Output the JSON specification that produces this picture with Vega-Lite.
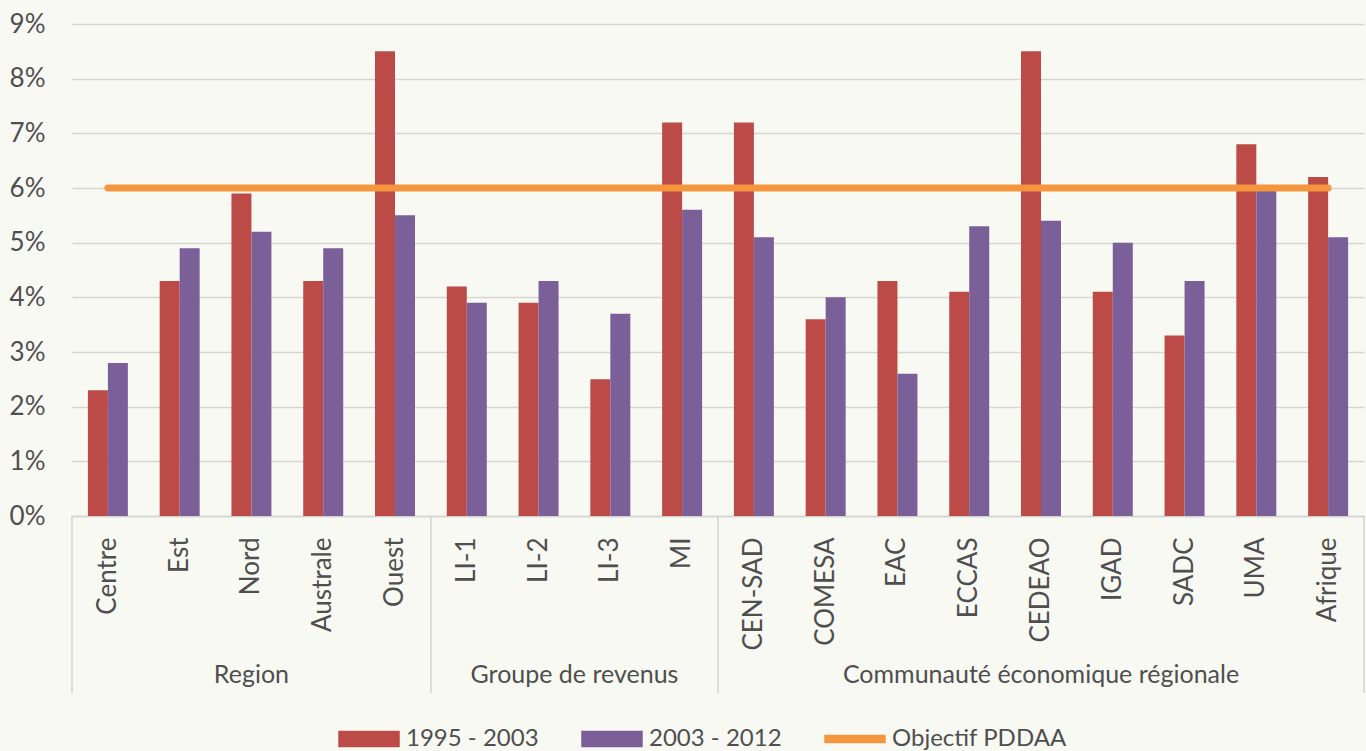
{
  "$schema": "https://vega.github.io/schema/vega-lite/v6.json",
  "width": 1292,
  "height": 492,
  "autosize": {"type": "none"},
  "padding": {"left": 72, "top": 24, "right": 2, "bottom": 235},
  "background": "#f9f9f4",
  "datasets": {
    "bars": [
      {"cat": "Centre", "series": "1995 - 2003", "value": 2.3},
      {"cat": "Centre", "series": "2003 - 2012", "value": 2.8},
      {"cat": "Est", "series": "1995 - 2003", "value": 4.3},
      {"cat": "Est", "series": "2003 - 2012", "value": 4.9},
      {"cat": "Nord", "series": "1995 - 2003", "value": 5.9},
      {"cat": "Nord", "series": "2003 - 2012", "value": 5.2},
      {"cat": "Australe", "series": "1995 - 2003", "value": 4.3},
      {"cat": "Australe", "series": "2003 - 2012", "value": 4.9},
      {"cat": "Ouest", "series": "1995 - 2003", "value": 8.5},
      {"cat": "Ouest", "series": "2003 - 2012", "value": 5.5},
      {"cat": "LI-1", "series": "1995 - 2003", "value": 4.2},
      {"cat": "LI-1", "series": "2003 - 2012", "value": 3.9},
      {"cat": "LI-2", "series": "1995 - 2003", "value": 3.9},
      {"cat": "LI-2", "series": "2003 - 2012", "value": 4.3},
      {"cat": "LI-3", "series": "1995 - 2003", "value": 2.5},
      {"cat": "LI-3", "series": "2003 - 2012", "value": 3.7},
      {"cat": "MI", "series": "1995 - 2003", "value": 7.2},
      {"cat": "MI", "series": "2003 - 2012", "value": 5.6},
      {"cat": "CEN-SAD", "series": "1995 - 2003", "value": 7.2},
      {"cat": "CEN-SAD", "series": "2003 - 2012", "value": 5.1},
      {"cat": "COMESA", "series": "1995 - 2003", "value": 3.6},
      {"cat": "COMESA", "series": "2003 - 2012", "value": 4.0},
      {"cat": "EAC", "series": "1995 - 2003", "value": 4.3},
      {"cat": "EAC", "series": "2003 - 2012", "value": 2.6},
      {"cat": "ECCAS", "series": "1995 - 2003", "value": 4.1},
      {"cat": "ECCAS", "series": "2003 - 2012", "value": 5.3},
      {"cat": "CEDEAO", "series": "1995 - 2003", "value": 8.5},
      {"cat": "CEDEAO", "series": "2003 - 2012", "value": 5.4},
      {"cat": "IGAD", "series": "1995 - 2003", "value": 4.1},
      {"cat": "IGAD", "series": "2003 - 2012", "value": 5.0},
      {"cat": "SADC", "series": "1995 - 2003", "value": 3.3},
      {"cat": "SADC", "series": "2003 - 2012", "value": 4.3},
      {"cat": "UMA", "series": "1995 - 2003", "value": 6.8},
      {"cat": "UMA", "series": "2003 - 2012", "value": 5.95},
      {"cat": "Afrique", "series": "1995 - 2003", "value": 6.2},
      {"cat": "Afrique", "series": "2003 - 2012", "value": 5.1}
    ],
    "groups": [
      {"label": "Region", "cat": "Nord", "mid": "center"},
      {"label": "Groupe de revenus", "cat": "LI-2", "mid": "edge"},
      {"label": "Communauté économique régionale", "cat": "CEDEAO", "mid": "center"}
    ],
    "separators": [
      {"cat": "Centre", "side": "start"},
      {"cat": "LI-1", "side": "start"},
      {"cat": "CEN-SAD", "side": "start"},
      {"cat": "Afrique", "side": "end"}
    ],
    "target": [
      {"from": "Centre", "to": "Afrique", "value": 6, "series": "Objectif PDDAA"}
    ]
  },
  "config": {
    "view": {"stroke": null},
    "font": "Lato",
    "axis": {"labelFont": "Lato", "labelColor": "#4f4f4f", "titleFont": "Lato"},
    "legend": {"labelFont": "Lato"}
  },
  "layer": [
    {
      "data": {"name": "bars"},
      "mark": {"type": "bar"},
      "encoding": {
        "x": {
          "field": "cat",
          "type": "nominal",
          "sort": null,
          "scale": {"paddingInner": 0, "paddingOuter": 0, "domain": ["Centre", "Est", "Nord", "Australe", "Ouest", "LI-1", "LI-2", "LI-3", "MI", "CEN-SAD", "COMESA", "EAC", "ECCAS", "CEDEAO", "IGAD", "SADC", "UMA", "Afrique"]},
          "axis": {
            "title": null,
            "labelAngle": -90,
            "labelAlign": "right",
            "labelBaseline": "middle",
            "labelPadding": 21,
            "labelFontSize": 26,
            "ticks": false,
            "domain": true,
            "domainColor": "#d3d3ce",
            "domainWidth": 1.5,
            "grid": false
          }
        },
        "xOffset": {
          "field": "series",
          "type": "nominal",
          "sort": ["1995 - 2003", "2003 - 2012"],
          "scale": {"paddingInner": 0, "paddingOuter": 0.795}
        },
        "y": {
          "field": "value",
          "type": "quantitative",
          "scale": {"domain": [0, 9], "nice": false},
          "axis": {
            "title": null,
            "values": [0, 1, 2, 3, 4, 5, 6, 7, 8, 9],
            "labelExpr": "datum.value + '%'",
            "labelFontSize": 26,
            "labelPadding": 27,
            "ticks": false,
            "domain": false,
            "grid": true,
            "gridColor": "#d6d6d1",
            "gridWidth": 1.5
          }
        },
        "color": {
          "field": "series",
          "type": "nominal",
          "scale": {
            "domain": ["1995 - 2003", "2003 - 2012", "Objectif PDDAA"],
            "range": ["#bc4b48", "#7b5f99", "#f5963f"]
          },
          "legend": {
            "title": null,
            "orient": "none",
            "direction": "horizontal",
            "legendX": 266,
            "legendY": 684,
            "symbolSize": 3600,
            "labelFontSize": 24,
            "labelOffset": 6,
            "labelLimit": 400,
            "columnPadding": 40,
            "labelColor": "#4f4f4f",
            "encode": {
              "symbols": {
                "update": {
                  "shape": {"signal": "datum.value === 'Objectif PDDAA' ? 'M-1,-0.12H1V0.12H-1Z' : 'M-1,-0.25H1V0.25H-1Z'"},
                  "fill": {"scale": "color", "field": "value"},
                  "stroke": {"value": "transparent"},
                  "opacity": {"value": 1}
                }
              }
            }
          }
        }
      }
    },
    {
      "data": {"name": "target"},
      "mark": {"type": "rule", "strokeWidth": 7, "strokeCap": "round"},
      "encoding": {
        "x": {"field": "from", "type": "nominal", "sort": null},
        "x2": {"field": "to"},
        "y": {"field": "value", "type": "quantitative"},
        "color": {"field": "series", "type": "nominal"}
      }
    },
    {
      "data": {"name": "separators"},
      "transform": [{"filter": "datum.side === 'start'"}],
      "mark": {"type": "rule", "color": "#d3d3ce", "strokeWidth": 1.5},
      "encoding": {
        "x": {"field": "cat", "type": "nominal", "sort": null, "bandPosition": 0},
        "y": {"datum": 0},
        "y2": {"datum": -3.24}
      }
    },
    {
      "data": {"name": "separators"},
      "transform": [{"filter": "datum.side === 'end'"}],
      "mark": {"type": "rule", "color": "#d3d3ce", "strokeWidth": 1.5},
      "encoding": {
        "x": {"field": "cat", "type": "nominal", "sort": null, "bandPosition": 1},
        "y": {"datum": 0},
        "y2": {"datum": -3.24}
      }
    },
    {
      "data": {"name": "groups"},
      "transform": [{"filter": "datum.mid === 'center'"}],
      "mark": {"type": "text", "fontSize": 25, "color": "#4f4f4f", "baseline": "alphabetic", "align": "center"},
      "encoding": {
        "x": {"field": "cat", "type": "nominal", "sort": null},
        "y": {"datum": -3.05},
        "text": {"field": "label"}
      }
    },
    {
      "data": {"name": "groups"},
      "transform": [{"filter": "datum.mid === 'edge'"}],
      "mark": {"type": "text", "fontSize": 25, "color": "#4f4f4f", "baseline": "alphabetic", "align": "center"},
      "encoding": {
        "x": {"field": "cat", "type": "nominal", "sort": null, "bandPosition": 1},
        "y": {"datum": -3.05},
        "text": {"field": "label"}
      }
    }
  ]
}
